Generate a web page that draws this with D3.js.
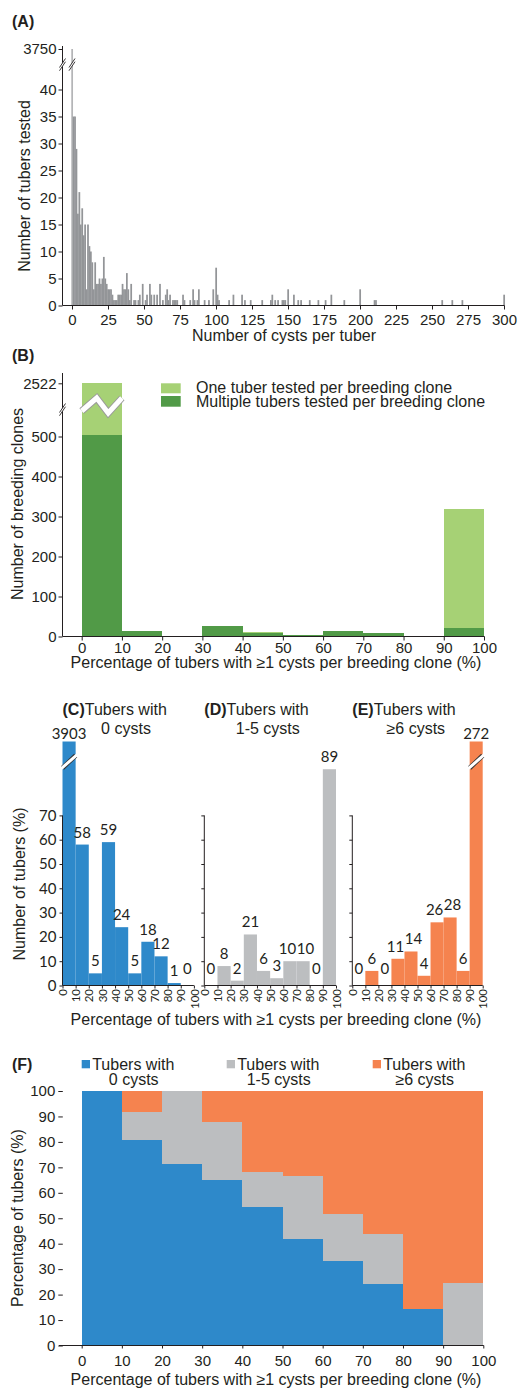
<!DOCTYPE html>
<html><head><meta charset="utf-8">
<script src="https://cdn.jsdelivr.net/npm/d3@7"></script>
<style>
html,body{margin:0;padding:0;background:#fff;}
svg{display:block;}
</style></head><body>
<svg id="fig" width="524" height="1388"></svg>
<script>
// ---------------- data ----------------
// (A) number of tubers tested for each cyst count
const cystCounts  = [0,1,2,3,4,5,6,7,8,9,10,11,12,13,14,15,16,17,18,19,20,21,22,23,24,25,26,27,28,29,30,31,32,33,34,35,36,37,38,39,40,41,43,44,46,47,49,51,52,54,55,57,59,61,63,65,66,67,68,70,71,72,73,77,78,82,84,85,87,88,92,95,98,100,101,102,109,112,118,120,124,132,138,139,141,143,146,147,148,150,154,157,159,165,171,176,180,189,200,210,211,257,264,271,300];
const tuberCounts = [3750,35,35,29,17,21,15,18,13,15,3,15,11,10,8,3,8,4,4,5,4,5,9,5,4,3,3,3,2,1,1,1,2,2,2,4,3,3,6,3,1,4,1,1,1,2,4,1,2,4,2,2,2,4,1,2,3,1,2,1,1,1,1,2,1,1,3,1,1,3,1,1,3,7,2,1,1,2,2,1,1,1,1,2,1,1,1,1,1,3,2,1,1,1,1,1,2,1,3,1,1,1,1,1,2];
const cystTicks   = [0,25,50,75,100,125,150,175,200,225,250,275,300];
const tubersTicks = [0,5,10,15,20,25,30,35,40,3750];

// (B) breeding clones per 10% bin of tubers with >=1 cysts
const binStarts      = [0,10,20,30,40,50,60,70,80,90];
const clonesMultiple = [505,14,1,26,10,4,14,9,1,21];
const clonesSingle   = [2017,0,0,1,2,0,0,0,0,298];
const clonesTicks    = [0,100,200,300,400,500,2522];
const pctTicks       = [0,10,20,30,40,50,60,70,80,90,100];

// (C)-(E) tubers per bin by cyst class
const tubersZero    = [3903,58,5,59,24,5,18,12,1,0];
const tubersOneFive = [0,8,2,21,6,3,10,10,0,89];
const tubersSixPlus = [0,6,0,11,14,4,26,28,6,272];
const classTicks    = [0,10,20,30,40,50,60,70];
const shareTicks    = [0,10,20,30,40,50,60,70,80,90,100];

// ---------------- helpers ----------------
const svg = d3.select("#fig");
const ARIAL = "'Liberation Sans', Arial, Helvetica, sans-serif";
const CALI = "Lato, 'Open Sans', sans-serif";
const INK = "#231f20";
const BLUE = "#2e89ca", GREY = "#bcbec0", ORANGE = "#f5834f";
const LIGHTG = "#a6d175", DARKG = "#519a47";

function line(x1, y1, x2, y2, w) {
  svg.append("line").attr("x1", x1).attr("y1", y1).attr("x2", x2).attr("y2", y2)
    .attr("stroke", INK).attr("stroke-width", w || 1);
}
function styleAxis(g, font, size) {
  g.select(".domain").remove();
  g.selectAll(".tick line").attr("stroke", INK);
  g.selectAll(".tick text").attr("font-family", font).attr("font-size", size).attr("fill", INK);
}
function text(x, y, str, opts) {
  opts = opts || {};
  const t = svg.append("text").attr("x", x).attr("y", y)
    .attr("font-family", opts.font || ARIAL).attr("font-size", opts.size || 16)
    .attr("fill", INK).attr("text-anchor", opts.anchor || "start")
    .attr("font-weight", opts.weight || "normal").text(str);
  if (opts.rotate) t.attr("transform", `rotate(-90,${x},${y})`);
  return t;
}
// double-slash break across a vertical line at (cx, cy)
function slashBreak(cx, cy) {
  const dx = 3, dy = 4.5, gap = 3.2;
  svg.append("polygon")
    .attr("points", `${cx-dx},${cy+dy} ${cx+dx},${cy-dy} ${cx+dx},${cy-dy+gap} ${cx-dx},${cy+dy+gap}`)
    .attr("fill", "#fff");
  line(cx-dx, cy+dy, cx+dx, cy-dy, 0.9);
  line(cx-dx, cy+dy+gap, cx+dx, cy-dy+gap, 0.9);
}

// ================= (A) =================
const xA = d3.scaleLinear().domain([0, 300]).range([72, 504]);
const yA = d3.scaleLinear().domain([0, 41, 3750]).range([305.5, 84.1, 49]);
const bwA = xA(1) - xA(0);
const dataA = cystCounts.map((c, i) => ({ c, n: tuberCounts[i] }));

svg.append("g").selectAll("rect").data(dataA).join("rect")
  .attr("x", d => xA(d.c) - bwA / 2)
  .attr("width", bwA + 0.3)
  .attr("y", d => yA(d.n))
  .attr("height", d => yA(0) - yA(d.n))
  .attr("fill", d => d.c === 0 ? "#b4b5b7" : "#939598");

line(62.5, 46, 62.5, 305.5);
line(62.5, 305.5, 504.5, 305.5);
svg.append("g").attr("transform", "translate(62.5,0)")
  .call(d3.axisLeft(yA).tickValues(tubersTicks).tickSize(4).tickPadding(2).tickFormat(d3.format("d")))
  .call(g => styleAxis(g, ARIAL, 15));
svg.append("g").attr("transform", "translate(0,305.5)")
  .call(d3.axisBottom(xA).tickValues(cystTicks).tickSize(4))
  .call(g => styleAxis(g, ARIAL, 15))
  .call(g => g.selectAll(".tick text").attr("y", 19.5).attr("dy", 0));
slashBreak(62.5, 63);
slashBreak(72, 63);

text(12, 27, "(A)", { weight: "bold", size: 16 });
text(30, 186, "Number of tubers tested", { anchor: "middle", rotate: true });
text(284, 341, "Number of cysts per tuber", { anchor: "middle" });

// ================= (B) =================
const xB = d3.scaleLinear().domain([0, 100]).range([81.7, 484]);
const yB = d3.scaleLinear().domain([0, 560, 2522]).range([636.5, 412.5, 383.3]);
const bwB = xB(10) - xB(0);
const dataB = binStarts.map((b, i) => ({ b, multi: clonesMultiple[i], single: clonesSingle[i] }));

const gB = svg.append("g").attr("shape-rendering", "crispEdges");
gB.selectAll("rect.single").data(dataB).join("rect").attr("class", "single")
  .attr("x", d => xB(d.b)).attr("width", bwB)
  .attr("y", d => yB(d.multi + d.single))
  .attr("height", d => yB(d.multi) - yB(d.multi + d.single))
  .attr("fill", LIGHTG);
gB.selectAll("rect.multi").data(dataB).join("rect").attr("class", "multi")
  .attr("x", d => xB(d.b)).attr("width", bwB)
  .attr("y", d => yB(d.multi))
  .attr("height", d => yB(0) - yB(d.multi))
  .attr("fill", DARKG);

// zig-zag cut through the tall first bar
const zig = [[xB(0), 411], [xB(0) + 15, 398], [xB(0) + 26.5, 413], [xB(10), 398]];
svg.append("polyline").attr("points", zig.join(" ")).attr("fill", "none")
  .attr("stroke", "#9a9a9a").attr("stroke-width", 7);
svg.append("polyline").attr("points", zig.join(" ")).attr("fill", "none")
  .attr("stroke", "#fff").attr("stroke-width", 5);

line(62.5, 373, 62.5, 636.5);
line(62.5, 636.5, 484.5, 636.5);
svg.append("g").attr("transform", "translate(62.5,0)")
  .call(d3.axisLeft(yB).tickValues(clonesTicks).tickSize(4).tickPadding(2).tickFormat(d3.format("d")))
  .call(g => styleAxis(g, ARIAL, 15));
svg.append("g").attr("transform", "translate(0,636.5)")
  .call(d3.axisBottom(xB).tickValues(pctTicks).tickSize(4))
  .call(g => styleAxis(g, ARIAL, 15))
  .call(g => g.selectAll(".tick text").attr("y", 16).attr("dy", 0));
slashBreak(62.5, 408);

// legend
svg.append("rect").attr("x", 161).attr("y", 383.3).attr("width", 19.7).attr("height", 10).attr("fill", LIGHTG);
svg.append("rect").attr("x", 161).attr("y", 396).attr("width", 19.7).attr("height", 10.7).attr("fill", DARKG);
text(196, 393.3, "One tuber tested per breeding clone");
text(196, 406.5, "Multiple tubers tested per breeding clone");

text(12, 361, "(B)", { weight: "bold", size: 16 });
text(23.3, 504, "Number of breeding clones", { anchor: "middle", rotate: true });
text(276, 667.5, "Percentage of tubers with \u22651 cysts per breeding clone (%)", { anchor: "middle" });

// ================= (C)-(E) =================
const Y0 = 985.5, PX = 2.43, BREAK_TOP = 741.5;
const panels = [
  { tag: "(C)", x0: 62.5, x1: 193.9, vals: tubersZero, color: BLUE, sub: "0 cysts", labels: true },
  { tag: "(D)", x0: 204.3, x1: 336, vals: tubersOneFive, color: GREY, sub: "1-5 cysts", labels: false },
  { tag: "(E)", x0: 352.3, x1: 482.7, vals: tubersSixPlus, color: ORANGE, sub: "\u22656 cysts", labels: false }
];

panels.forEach(p => {
  const x = d3.scaleLinear().domain([0, 100]).range([p.x0, p.x1]);
  const maxV = d3.max(p.vals);
  const y = maxV > 95
    ? d3.scaleLinear().domain([0, 95, maxV]).range([Y0, Y0 - 95 * PX, BREAK_TOP])
    : d3.scaleLinear().domain([0, 95]).range([Y0, Y0 - 95 * PX]);
  const bw = x(10) - x(0);
  const data = binStarts.map((b, i) => ({ b, v: p.vals[i] }));

  svg.append("g").selectAll("rect").data(data).join("rect")
    .attr("x", d => x(d.b)).attr("width", bw)
    .attr("y", d => y(d.v)).attr("height", d => Y0 - y(d.v))
    .attr("fill", p.color);

  // cut across any bar that runs off the scale
  data.filter(d => d.v > 95).forEach(d => {
    const xa = x(d.b), xb = x(d.b) + bw;
    svg.append("line").attr("x1", xa).attr("y1", 768).attr("x2", xb).attr("y2", 755.5)
      .attr("stroke", "#333").attr("stroke-width", 4.6);
    svg.append("line").attr("x1", xa - 1).attr("y1", 768.3).attr("x2", xb + 1).attr("y2", 755.2)
      .attr("stroke", "#fff").attr("stroke-width", 3);
  });

  // value labels, nudged apart where neighbours collide
  const labs = data.map(d => ({
    txt: String(d.v),
    cx: x(d.b) + bw / 2,
    by: (d.v > 95 ? BREAK_TOP - 3 : y(d.v) - (d.v === 0 ? 12 : 7))
  }));
  labs.forEach(l => l.w = l.txt.length * 8.7);
  for (let i = 0; i < labs.length - 1; i++) {
    const a = labs[i], b = labs[i + 1];
    const need = (a.w + b.w) / 2 + 0.5;
    const dist = b.cx - a.cx;
    if (Math.abs(a.by - b.by) < 12 && dist < need) {
      const s = (need - dist) / 2;
      a.cx -= s; b.cx += s;
    }
  }
  labs.forEach(l => text(l.cx, l.by, l.txt, { font: CALI, size: 15, anchor: "middle" }));

  // axes
  line(p.x0, Y0 - 70 * PX, p.x0, Y0);
  line(p.x0, Y0, p.x1, Y0);
  const yLin = d3.scaleLinear().domain([0, 70]).range([Y0, Y0 - 70 * PX]);
  svg.append("g").attr("transform", `translate(${p.x0},0)`)
    .call(d3.axisLeft(yLin).tickValues(classTicks).tickSize(3).tickPadding(3)
      .tickFormat(p.labels ? d3.format("d") : () => ""))
    .call(g => styleAxis(g, CALI, 15));
  svg.append("g").attr("transform", `translate(0,${Y0})`)
    .call(d3.axisBottom(x).tickValues(shareTicks).tickSize(3))
    .call(g => styleAxis(g, CALI, 11.5))
    .call(g => g.selectAll(".tick text")
      .attr("transform", "rotate(-90)").attr("x", -3.5).attr("y", 0).attr("dy", "0.36em")
      .attr("text-anchor", "end"));

  // panel title
  const t = svg.append("text").attr("x", p.x0).attr("y", 715)
    .attr("font-family", ARIAL).attr("font-size", 16).attr("fill", INK);
  t.append("tspan").attr("font-weight", "bold").text(p.tag);
  t.append("tspan").text("Tubers with");
  text(p.x0 + 63.5, 734, p.sub, { anchor: "middle" });
});

text(24.5, 884, "Number of tubers (%)", { anchor: "middle", rotate: true });
text(276, 1025, "Percentage of tubers with \u22651 cysts per breeding clone (%)", { anchor: "middle" });

// ================= (F) =================
const totals = binStarts.map((b, i) => tubersZero[i] + tubersOneFive[i] + tubersSixPlus[i]);
const shares = binStarts.map((b, i) => ({
  b,
  zero: 100 * tubersZero[i] / totals[i],
  low: 100 * tubersOneFive[i] / totals[i],
  high: 100 * tubersSixPlus[i] / totals[i]
}));
const stackF = d3.stack().keys(["zero", "low", "high"])(shares);
const colorF = { zero: BLUE, low: GREY, high: ORANGE };
const xF = d3.scaleLinear().domain([0, 100]).range([81.7, 483.3]);
const yF = d3.scaleLinear().domain([0, 100]).range([1345.5, 1091]);
const bwF = xF(10) - xF(0);

svg.append("g").attr("shape-rendering", "crispEdges")
  .selectAll("g").data(stackF).join("g")
  .attr("fill", s => colorF[s.key])
  .selectAll("rect").data(s => s).join("rect")
  .attr("x", d => Math.round(xF(d.data.b)))
  .attr("width", d => Math.round(xF(d.data.b) + bwF) - Math.round(xF(d.data.b)))
  .attr("y", d => yF(d[1])).attr("height", d => yF(d[0]) - yF(d[1]));

line(59, 1345.5, 483.8, 1345.5);
svg.append("g").attr("transform", "translate(62.8,0)")
  .call(d3.axisLeft(yF).tickValues(shareTicks).tickSize(4.5).tickPadding(3))
  .call(g => styleAxis(g, ARIAL, 15));
svg.append("g").attr("transform", "translate(0,1345.5)")
  .call(d3.axisBottom(xF).tickValues(shareTicks).tickSize(3))
  .call(g => styleAxis(g, ARIAL, 15))
  .call(g => g.selectAll(".tick text").attr("y", 20.5).attr("dy", 0));

// legend
const legF = [
  { c: BLUE, x: 81.7, sub: "0 cysts" },
  { c: GREY, x: 226.7, sub: "1-5 cysts" },
  { c: ORANGE, x: 372.7, sub: "\u22656 cysts" }
];
legF.forEach(l => {
  svg.append("rect").attr("x", l.x).attr("y", 1060).attr("width", 8.3).attr("height", 8.3).attr("fill", l.c);
  text(l.x + 10.5, 1070, "Tubers with");
  text(l.x + 52, 1084.5, l.sub, { anchor: "middle" });
});

text(12, 1070, "(F)", { weight: "bold", size: 16 });
text(23, 1218, "Percentage of tubers (%)", { anchor: "middle", rotate: true });
text(276, 1385, "Percentage of tubers with \u22651 cysts per breeding clone (%)", { anchor: "middle" });
</script>
</body></html>
